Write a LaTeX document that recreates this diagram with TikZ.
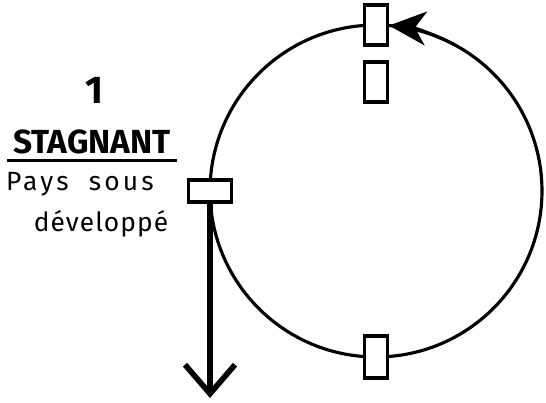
\documentclass[tikz,border=0pt]{standalone}
\usepackage{fontspec}
\setmainfont{Fira Sans}
\usetikzlibrary{positioning,arrows.meta,calc}

\begin{document}
\begin{tikzpicture}[x=0.02cm, y=0.02cm,
    gate/.style={draw, line width=2.1pt, fill=white, inner sep=0pt},
    vgate/.style={gate, minimum width=0.46cm, minimum height=0.8cm},
    hgate/.style={gate, minimum width=0.86cm, minimum height=0.44cm},
    every node/.style={align=center}]
  \useasboundingbox (0,0) rectangle (546,402);
  % cycle
  \coordinate (ctr) at (376,211);
  \draw[line width=1.8pt] (ctr) circle[radius=3.32cm];
  \draw[line width=1.8pt, -{Stealth[length=0.74cm, width=0.68cm, inset=0.22cm]}]
      (ctr) ++(62:3.32cm) arc[start angle=62, end angle=85.5, radius=3.32cm];
  % nodes
  \node[vgate] (top) at ($(ctr)+(90:166)$) {};
  \node[vgate, below=0.26cm of top] (below) {};
  \node[hgate] (left) at ($(ctr)+(180:166)$) {};
  \node[vgate, minimum height=0.84cm] (bottom) at ($(ctr)+(270:166)$) {};
  % outflow
  \coordinate (drop) at (left.south |- 0,4);
  \draw[line width=3.2pt, -{Straight Barb[length=0.58cm, width=1.0cm]}] (left.south) -- (drop);
  % labels
  \node[font=\bfseries\fontsize{22}{24}\selectfont] (num) at (94,312) {1};
  \node[font=\bfseries\fontsize{19}{22}\selectfont] (stage) at (92,260) {STAGNANT};
  \draw[line width=1.7pt] ($(stage.base west)+(0,-7)$) -- ($(stage.base east)+(0,-7)$);
  \node[font=\fontsize{15}{18}\selectfont\addfontfeatures{LetterSpace=12}] (pays) at (80,218) {Pays\ \ sous};
  \node[font=\fontsize{15}{18}\selectfont\addfontfeatures{LetterSpace=4}] (dev) at (101,178) {développé};
\end{tikzpicture}
\end{document}
